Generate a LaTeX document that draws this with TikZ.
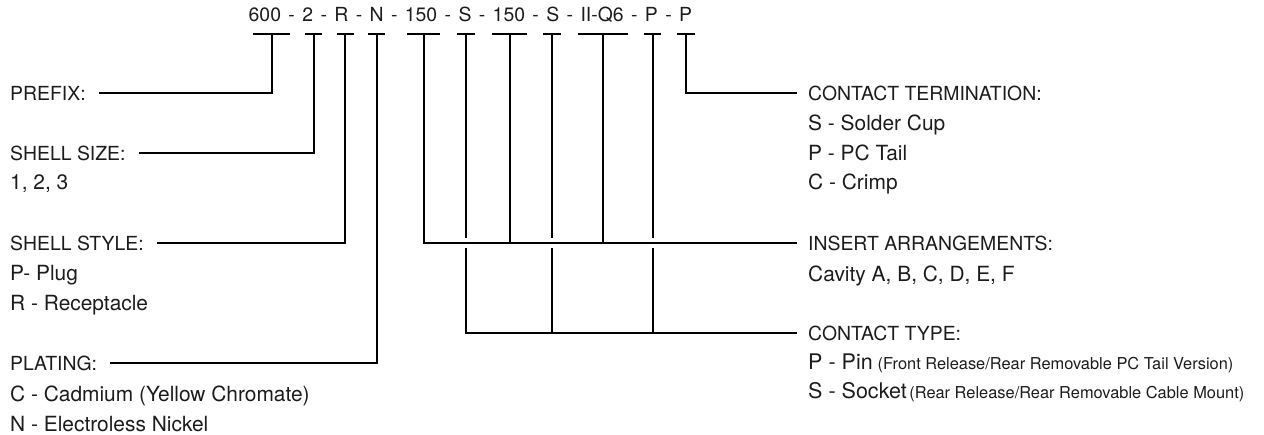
\documentclass[tikz,border=0pt]{standalone}
\usepackage{fontspec}
\setmainfont{TeX Gyre Heros}
\definecolor{ink}{RGB}{28,28,28}
\newcommand\mainsz{\fontsize{19.4}{23}\selectfont}
\newcommand\subsz{\fontsize{20.9}{24}\selectfont}
\newcommand\bigsz{\fontsize{21.5}{25}\selectfont}
\newcommand\smallsz{\fontsize{16.4}{19}\selectfont}
\newcommand\sepdash{\hspace{7.4pt}-\hspace{7.4pt}}
\begin{document}
\begin{tikzpicture}[x=1pt,y=-1pt,
  txt/.style={inner sep=0pt, text=ink, font=\mainsz},
  head/.style={txt, anchor=west},
  sub/.style={txt, anchor=base west, font=\subsz},
  wire/.style={draw=black, line width=2pt},
  ]
\useasboundingbox (0,0) rectangle (1264,435);

% part number
\node[txt, anchor=base west] (code) at (248.5,22) {600\sepdash 2\sepdash R\sepdash N\sepdash 150\sepdash S\sepdash 150\sepdash S\sepdash II-Q6\sepdash P\sepdash P};

% T markers
\coordinate (t1) at (271.5,34);
\coordinate (t2) at (313.5,34);
\coordinate (t3) at (345,34);
\coordinate (t4) at (376.5,34);
\coordinate (t5) at (423.5,34);
\coordinate (t6) at (465.5,34);
\coordinate (t7) at (509.5,34);
\coordinate (t8) at (551.5,34);
\coordinate (t9) at (603,34);
\coordinate (t10) at (652.5,34);
\coordinate (t11) at (686,34);
\foreach \n/\w in {t1/18.5,t2/8.5,t3/8.5,t4/8.5,t5/16.5,t6/9,t7/17.5,t8/9,t9/25,t10/8.5,t11/9}
  \draw[wire] ([xshift=-\w pt]\n) -- ([xshift=\w pt]\n);

% left labels
\node[head] (prefix) at (10,93) {PREFIX:};
\node[head] (size) at (10,153) {SHELL SIZE:};
\node[sub] (size1) at (10,190) {1, 2, 3};
\node[head] (style) at (10,243) {SHELL STYLE:};
\node[sub] (style1) at (10,281) {P- Plug};
\node[sub] (style2) at (10,311) {R - Receptacle};
\node[head] (plating) at (10,363) {PLATING:};
\node[sub] (plating1) at (10,401.5) {C - Cadmium (Yellow Chromate)};
\node[sub] (plating2) at (10,431.5) {N - Electroless Nickel};

% right labels
\node[head] (term) at (808,93) {CONTACT TERMINATION:};
\node[sub] (term1) at (808,131) {S - Solder Cup};
\node[sub] (term2) at (808,160.5) {P - PC Tail};
\node[sub] (term3) at (808,190) {C - Crimp};
\node[head] (insert) at (808,243) {INSERT ARRANGEMENTS:};
\node[sub] (insert1) at (808,281.5) {Cavity A, B, C, D, E, F};
\node[head] (ctype) at (808,333) {CONTACT TYPE:};
\node[sub] (ctype1) at (808,369.5) {{\bigsz P - Pin}\hspace{5pt}{\smallsz (Front Release/Rear Removable PC Tail Version)}};
\node[sub] (ctype2) at (808,398.5) {{\bigsz S - Socket}\hspace{2.5pt}{\smallsz (Rear Release/Rear Removable Cable Mount)}};

% connectors, left
\draw[wire] (t1) |- ([xshift=13pt]prefix.east);
\draw[wire] (t2) |- ([xshift=13pt]size.east);
\draw[wire] (t3) |- ([xshift=13pt]style.east);
\draw[wire] (t4) |- ([xshift=13pt]plating.east);

% connectors, right
\draw[wire] (t11) |- ([xshift=-11pt]term.west);
\draw[wire] (t5) |- ([xshift=-11pt]insert.west);
\draw[wire] (t7) -- (t7 |- insert.west);
\draw[wire] (t9) -- (t9 |- insert.west);
\foreach \n in {t6,t8,t10}
  \draw[wire] (\n) -- ([yshift=5pt]\n |- insert.west);
\draw[wire] ([yshift=-5pt]t6 |- insert.west) |- ([xshift=-11pt]ctype.west);
\draw[wire] ([yshift=-5pt]t8 |- insert.west) -- (t8 |- ctype.west);
\draw[wire] ([yshift=-5pt]t10 |- insert.west) -- (t10 |- ctype.west);
\end{tikzpicture}
\end{document}
